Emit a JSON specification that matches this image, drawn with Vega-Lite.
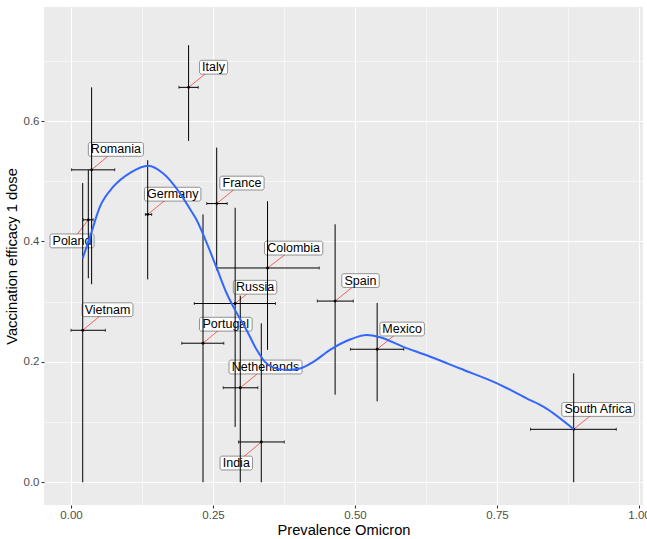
{
  "$schema": "https://vega.github.io/schema/vega-lite/v6.json",
  "width": 599,
  "height": 498,
  "autosize": {"type": "none"},
  "padding": {"left": 44, "right": 4, "top": 7, "bottom": 34},
  "background": "white",
  "config": {"view": {"fill": "#EBEBEB", "stroke": null}},
  "datasets": {
    "countries": [
      {"country": "Vietnam", "x": 0.0206, "y": 0.2525, "xlo": 0.0, "xhi": 0.0605, "ylo": 0.0, "yhi": 0.497, "lx": 0.0643, "ly": 0.2867},
      {"country": "Poland", "x": 0.0305, "y": 0.436, "xlo": 0.0215, "xhi": 0.039, "ylo": 0.339, "yhi": 0.519, "lx": 0.0018, "ly": 0.401},
      {"country": "Romania", "x": 0.0363, "y": 0.519, "xlo": 0.001, "xhi": 0.077, "ylo": 0.329, "yhi": 0.656, "lx": 0.079, "ly": 0.553},
      {"country": "Germany", "x": 0.135, "y": 0.445, "xlo": 0.131, "xhi": 0.142, "ylo": 0.337, "yhi": 0.535, "lx": 0.179, "ly": 0.4786},
      {"country": "Italy", "x": 0.207, "y": 0.656, "xlo": 0.19, "xhi": 0.224, "ylo": 0.567, "yhi": 0.726, "lx": 0.251, "ly": 0.6895},
      {"country": "France", "x": 0.2565, "y": 0.463, "xlo": 0.239, "xhi": 0.275, "ylo": 0.352, "yhi": 0.556, "lx": 0.301, "ly": 0.497},
      {"country": "Portugal", "x": 0.2324, "y": 0.231, "xlo": 0.195, "xhi": 0.269, "ylo": 0.0, "yhi": 0.445, "lx": 0.2725, "ly": 0.2626},
      {"country": "Russia", "x": 0.289, "y": 0.297, "xlo": 0.217, "xhi": 0.36, "ylo": 0.092, "yhi": 0.456, "lx": 0.324, "ly": 0.324},
      {"country": "Netherlands", "x": 0.298, "y": 0.157, "xlo": 0.268, "xhi": 0.329, "ylo": 0.0, "yhi": 0.31, "lx": 0.3424, "ly": 0.1915},
      {"country": "India", "x": 0.335, "y": 0.067, "xlo": 0.295, "xhi": 0.3755, "ylo": 0.0, "yhi": 0.264, "lx": 0.291, "ly": 0.032},
      {"country": "Colombia", "x": 0.346, "y": 0.356, "xlo": 0.256, "xhi": 0.437, "ylo": 0.22, "yhi": 0.467, "lx": 0.392, "ly": 0.389},
      {"country": "Spain", "x": 0.465, "y": 0.301, "xlo": 0.4336, "xhi": 0.497, "ylo": 0.1455, "yhi": 0.4286, "lx": 0.5097, "ly": 0.335},
      {"country": "Mexico", "x": 0.539, "y": 0.221, "xlo": 0.492, "xhi": 0.586, "ylo": 0.1345, "yhi": 0.298, "lx": 0.583, "ly": 0.2546},
      {"country": "South Africa", "x": 0.885, "y": 0.088, "xlo": 0.809, "xhi": 0.96, "ylo": 0.0, "yhi": 0.181, "lx": 0.928, "ly": 0.121}
    ],
    "smooth": [
      {"x": 0.0206, "y": 0.372}, {"x": 0.0335, "y": 0.408}, {"x": 0.051, "y": 0.458}, {"x": 0.0745, "y": 0.491},
      {"x": 0.104, "y": 0.514}, {"x": 0.136, "y": 0.526}, {"x": 0.1625, "y": 0.513}, {"x": 0.192, "y": 0.48},
      {"x": 0.2095, "y": 0.454}, {"x": 0.221, "y": 0.436}, {"x": 0.233, "y": 0.411}, {"x": 0.2565, "y": 0.356},
      {"x": 0.274, "y": 0.314}, {"x": 0.289, "y": 0.286}, {"x": 0.309, "y": 0.253}, {"x": 0.327, "y": 0.22},
      {"x": 0.3405, "y": 0.201}, {"x": 0.356, "y": 0.191}, {"x": 0.38, "y": 0.1865}, {"x": 0.403, "y": 0.189},
      {"x": 0.4266, "y": 0.2}, {"x": 0.456, "y": 0.22}, {"x": 0.4935, "y": 0.238}, {"x": 0.5206, "y": 0.2447},
      {"x": 0.544, "y": 0.241}, {"x": 0.585, "y": 0.225}, {"x": 0.626, "y": 0.211}, {"x": 0.685, "y": 0.189},
      {"x": 0.751, "y": 0.164}, {"x": 0.802, "y": 0.1395}, {"x": 0.8316, "y": 0.1256}, {"x": 0.885, "y": 0.088}
    ]
  },
  "layer": [
    {
      "data": {"name": "countries"},
      "mark": {"type": "rule", "color": "#FF0000", "strokeWidth": 0.6},
      "encoding": {
        "x": {"field": "x", "type": "quantitative", "title": "Prevalence Omicron",
          "scale": {"domain": [-0.04754, 1.00704], "nice": false, "zero": false},
          "axis": {
            "values": [0, 0.125, 0.25, 0.375, 0.5, 0.625, 0.75, 0.875, 1],
            "labelExpr": "round(datum.value*8) % 2 == 1 ? '' : format(datum.value, '.2f')",
            "grid": true, "gridColor": "white",
            "gridWidth": {"condition": {"test": "round(datum.value*8) % 2 == 1", "value": 0.55}, "value": 1.1},
            "tickOpacity": {"condition": {"test": "round(datum.value*8) % 2 == 1", "value": 0}, "value": 1},
            "domain": false, "tickColor": "#333333", "tickSize": 3, "tickWidth": 1.1,
            "labelFont": "Liberation Sans", "labelFontSize": 11.5, "labelColor": "#4D4D4D", "labelPadding": 1,
            "labelFlush": false, "labelOverlap": false,
            "titleFont": "Liberation Sans", "titleFontSize": 14.7, "titleFontWeight": "normal", "titleColor": "black", "titlePadding": 2
          }
        },
        "y": {"field": "y", "type": "quantitative", "title": "Vaccination efficacy 1 dose",
          "scale": {"domain": [-0.0377, 0.7895], "nice": false, "zero": false},
          "axis": {
            "values": [0, 0.1, 0.2, 0.3, 0.4, 0.5, 0.6, 0.7],
            "labelExpr": "round(datum.value*10) % 2 == 1 ? '' : format(datum.value, '.1f')",
            "grid": true, "gridColor": "white",
            "gridWidth": {"condition": {"test": "round(datum.value*10) % 2 == 1", "value": 0.55}, "value": 1.1},
            "tickOpacity": {"condition": {"test": "round(datum.value*10) % 2 == 1", "value": 0}, "value": 1},
            "domain": false, "tickColor": "#333333", "tickSize": 3, "tickWidth": 1.1,
            "labelFont": "Liberation Sans", "labelFontSize": 11.5, "labelColor": "#4D4D4D", "labelPadding": 2,
            "labelFlush": false, "labelOverlap": false,
            "titleFont": "Liberation Sans", "titleFontSize": 14.7, "titleFontWeight": "normal", "titleColor": "black", "titlePadding": 4
          }
        },
        "x2": {"field": "lx"},
        "y2": {"field": "ly"}
      }
    },
    {
      "data": {"name": "countries"},
      "mark": {"type": "point", "filled": true, "fill": "white", "stroke": "#4D4D4D", "strokeWidth": 0.6, "size": 4, "opacity": 1},
      "encoding": {
        "x": {"field": "lx", "type": "quantitative", "title": "Prevalence Omicron", "scale": {"domain": [-0.04754, 1.00704], "nice": false, "zero": false}},
        "y": {"field": "ly", "type": "quantitative", "title": "Vaccination efficacy 1 dose", "scale": {"domain": [-0.0377, 0.7895], "nice": false, "zero": false}},
        "shape": {"field": "country", "type": "nominal", "legend": null,
          "scale": {
            "domain": ["Vietnam", "Poland", "Romania", "Germany", "Italy", "France", "Portugal", "Russia", "Netherlands", "India", "Colombia", "Spain", "Mexico", "South Africa"],
            "range": [
              "M-23.4,-6.9H23.4A2,2 0 0 1 25.4,-4.9V4.9A2,2 0 0 1 23.4,6.9H-23.4A2,2 0 0 1 -25.4,4.9V-4.9A2,2 0 0 1 -23.4,-6.9Z",
              "M-20,-6.9H20A2,2 0 0 1 22,-4.9V4.9A2,2 0 0 1 20,6.9H-20A2,2 0 0 1 -22,4.9V-4.9A2,2 0 0 1 -20,-6.9Z",
              "M-25.5,-6.9H25.5A2,2 0 0 1 27.5,-4.9V4.9A2,2 0 0 1 25.5,6.9H-25.5A2,2 0 0 1 -27.5,4.9V-4.9A2,2 0 0 1 -25.5,-6.9Z",
              "M-26.2,-6.9H26.2A2,2 0 0 1 28.2,-4.9V4.9A2,2 0 0 1 26.2,6.9H-26.2A2,2 0 0 1 -28.2,4.9V-4.9A2,2 0 0 1 -26.2,-6.9Z",
              "M-12,-6.9H12A2,2 0 0 1 14,-4.9V4.9A2,2 0 0 1 12,6.9H-12A2,2 0 0 1 -14,4.9V-4.9A2,2 0 0 1 -12,-6.9Z",
              "M-20.1,-6.9H20.1A2,2 0 0 1 22.1,-4.9V4.9A2,2 0 0 1 20.1,6.9H-20.1A2,2 0 0 1 -22.1,4.9V-4.9A2,2 0 0 1 -20.1,-6.9Z",
              "M-24.3,-6.9H24.3A2,2 0 0 1 26.3,-4.9V4.9A2,2 0 0 1 24.3,6.9H-24.3A2,2 0 0 1 -26.3,4.9V-4.9A2,2 0 0 1 -24.3,-6.9Z",
              "M-19.7,-6.9H19.7A2,2 0 0 1 21.7,-4.9V4.9A2,2 0 0 1 19.7,6.9H-19.7A2,2 0 0 1 -21.7,4.9V-4.9A2,2 0 0 1 -19.7,-6.9Z",
              "M-34.5,-6.9H34.5A2,2 0 0 1 36.5,-4.9V4.9A2,2 0 0 1 34.5,6.9H-34.5A2,2 0 0 1 -36.5,4.9V-4.9A2,2 0 0 1 -34.5,-6.9Z",
              "M-14.2,-6.9H14.2A2,2 0 0 1 16.2,-4.9V4.9A2,2 0 0 1 14.2,6.9H-14.2A2,2 0 0 1 -16.2,4.9V-4.9A2,2 0 0 1 -14.2,-6.9Z",
              "M-27.1,-6.9H27.1A2,2 0 0 1 29.1,-4.9V4.9A2,2 0 0 1 27.1,6.9H-27.1A2,2 0 0 1 -29.1,4.9V-4.9A2,2 0 0 1 -27.1,-6.9Z",
              "M-16.7,-6.9H16.7A2,2 0 0 1 18.7,-4.9V4.9A2,2 0 0 1 16.7,6.9H-16.7A2,2 0 0 1 -18.7,4.9V-4.9A2,2 0 0 1 -16.7,-6.9Z",
              "M-20.2,-6.9H20.2A2,2 0 0 1 22.2,-4.9V4.9A2,2 0 0 1 20.2,6.9H-20.2A2,2 0 0 1 -22.2,4.9V-4.9A2,2 0 0 1 -20.2,-6.9Z",
              "M-34.3,-6.9H34.3A2,2 0 0 1 36.3,-4.9V4.9A2,2 0 0 1 34.3,6.9H-34.3A2,2 0 0 1 -36.3,4.9V-4.9A2,2 0 0 1 -34.3,-6.9Z"
            ]
          }
        }
      }
    },
    {
      "data": {"name": "countries"},
      "mark": {"type": "text", "font": "Liberation Sans", "fontSize": 12.5, "color": "black", "align": "center", "baseline": "middle"},
      "encoding": {
        "x": {"field": "lx", "type": "quantitative", "title": "Prevalence Omicron", "scale": {"domain": [-0.04754, 1.00704], "nice": false, "zero": false}},
        "y": {"field": "ly", "type": "quantitative", "title": "Vaccination efficacy 1 dose", "scale": {"domain": [-0.0377, 0.7895], "nice": false, "zero": false}},
        "text": {"field": "country"}
      }
    },
    {
      "data": {"name": "countries"},
      "mark": {"type": "rule", "color": "black", "strokeWidth": 1},
      "encoding": {
        "x": {"field": "x", "type": "quantitative", "title": "Prevalence Omicron", "scale": {"domain": [-0.04754, 1.00704], "nice": false, "zero": false}},
        "y": {"field": "ylo", "type": "quantitative", "title": "Vaccination efficacy 1 dose", "scale": {"domain": [-0.0377, 0.7895], "nice": false, "zero": false}},
        "y2": {"field": "yhi"}
      }
    },
    {
      "data": {"name": "countries"},
      "mark": {"type": "rule", "color": "black", "strokeWidth": 1},
      "encoding": {
        "x": {"field": "xlo", "type": "quantitative", "title": "Prevalence Omicron", "scale": {"domain": [-0.04754, 1.00704], "nice": false, "zero": false}},
        "x2": {"field": "xhi"},
        "y": {"field": "y", "type": "quantitative", "title": "Vaccination efficacy 1 dose", "scale": {"domain": [-0.0377, 0.7895], "nice": false, "zero": false}}
      }
    },
    {
      "data": {"name": "countries"},
      "mark": {"type": "tick", "orient": "vertical", "color": "black", "size": 3, "thickness": 1},
      "encoding": {
        "x": {"field": "xlo", "type": "quantitative", "title": "Prevalence Omicron", "scale": {"domain": [-0.04754, 1.00704], "nice": false, "zero": false}},
        "y": {"field": "y", "type": "quantitative", "title": "Vaccination efficacy 1 dose", "scale": {"domain": [-0.0377, 0.7895], "nice": false, "zero": false}}
      }
    },
    {
      "data": {"name": "countries"},
      "mark": {"type": "tick", "orient": "vertical", "color": "black", "size": 3, "thickness": 1},
      "encoding": {
        "x": {"field": "xhi", "type": "quantitative", "title": "Prevalence Omicron", "scale": {"domain": [-0.04754, 1.00704], "nice": false, "zero": false}},
        "y": {"field": "y", "type": "quantitative", "title": "Vaccination efficacy 1 dose", "scale": {"domain": [-0.0377, 0.7895], "nice": false, "zero": false}}
      }
    },
    {
      "data": {"name": "countries"},
      "mark": {"type": "point", "filled": true, "color": "black", "size": 8, "opacity": 1},
      "encoding": {
        "x": {"field": "x", "type": "quantitative", "title": "Prevalence Omicron", "scale": {"domain": [-0.04754, 1.00704], "nice": false, "zero": false}},
        "y": {"field": "y", "type": "quantitative", "title": "Vaccination efficacy 1 dose", "scale": {"domain": [-0.0377, 0.7895], "nice": false, "zero": false}}
      }
    },
    {
      "data": {"name": "smooth"},
      "mark": {"type": "line", "color": "#3366FF", "strokeWidth": 2, "interpolate": "monotone"},
      "encoding": {
        "x": {"field": "x", "type": "quantitative", "title": "Prevalence Omicron", "scale": {"domain": [-0.04754, 1.00704], "nice": false, "zero": false}},
        "y": {"field": "y", "type": "quantitative", "title": "Vaccination efficacy 1 dose", "scale": {"domain": [-0.0377, 0.7895], "nice": false, "zero": false}}
      }
    }
  ]
}
